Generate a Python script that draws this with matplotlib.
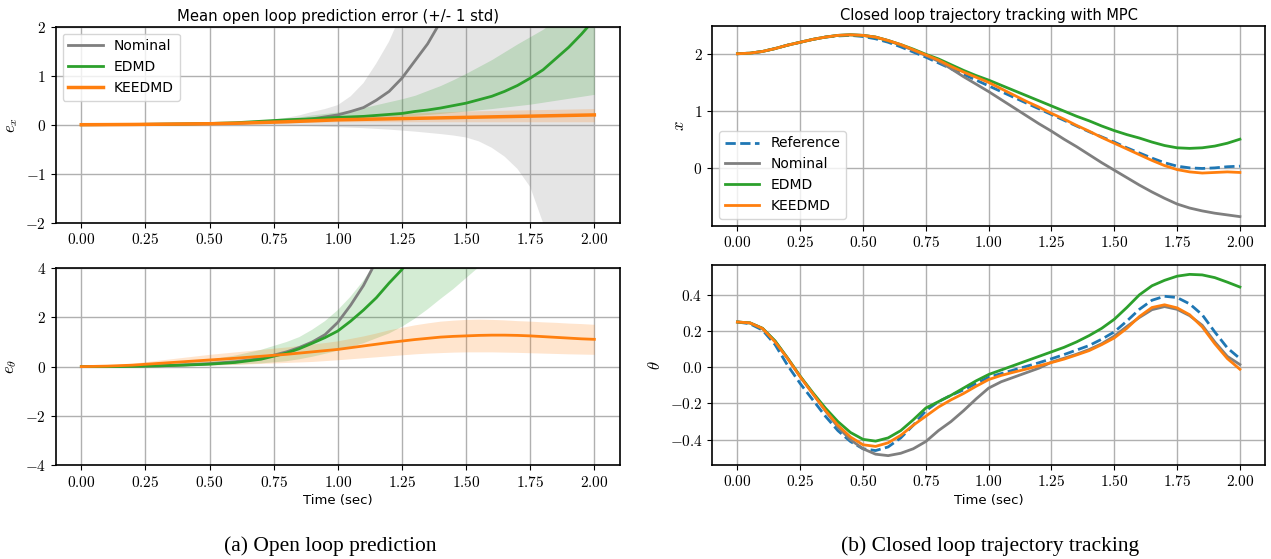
import numpy as np
import matplotlib
matplotlib.use("Agg")
import matplotlib.pyplot as plt
from matplotlib.ticker import FuncFormatter, MultipleLocator, FixedLocator

plt.rcParams['mathtext.fontset'] = 'cm'
plt.rcParams['font.family'] = 'DejaVu Sans'

# ---------------- open loop prediction error ----------------
# coarse steps early on, 0.05 s where the curves bend
t_ol = [0.0, 0.1, 0.2, 0.3, 0.4, 0.5, 0.6, 0.7,
        0.8, 0.85, 0.9, 0.95, 1.0, 1.05, 1.1, 1.15, 1.2, 1.25, 1.3, 1.35, 1.4,
        1.45, 1.5, 1.55, 1.6, 1.65, 1.7, 1.75, 1.8, 1.85, 1.9, 1.95, 2.0]

# e_x
nom_ex = [0, 0.002, 0.005, 0.01, 0.015, 0.02, 0.03, 0.05,
          0.08, 0.1, 0.12, 0.16, 0.2, 0.27, 0.35, 0.5, 0.68, 0.95, 1.3, 1.65, 2.1,
          2.7, 3.5, 4.5, 6, 7.7, 10, 13, 17, 22, 28, 37, 48]
nom_ex_hi = [0, 0.002, 0.005, 0.01, 0.015, 0.025, 0.04, 0.07,
             0.14, 0.19, 0.26, 0.32, 0.4, 0.58, 0.85, 1.25, 1.7, 2.3, 3, 3.9, 5,
             6.3, 8, 10, 13, 16.5, 21, 27, 34, 42, 52, 65, 80]
nom_ex_lo = [0, 0, 0, 0, 0, 0, -0.005, -0.01,
             -0.02, -0.025, -0.03, -0.04, -0.05, -0.06, -0.07, -0.085, -0.1, -0.12, -0.14, -0.165, -0.19,
             -0.22, -0.26, -0.34, -0.47, -0.65, -0.9, -1.27, -2.0, -3.0, -4.0, -5.0, -6.0]
edmd_ex = [0, 0.002, 0.005, 0.01, 0.015, 0.025, 0.04, 0.07,
           0.1, 0.11, 0.12, 0.135, 0.15, 0.16, 0.17, 0.19, 0.21, 0.23, 0.27, 0.3, 0.34,
           0.39, 0.44, 0.51, 0.58, 0.68, 0.8, 0.95, 1.12, 1.35, 1.58, 1.85, 2.15]
edmd_ex_hi = [0, 0.002, 0.005, 0.01, 0.02, 0.03, 0.05, 0.08,
              0.13, 0.16, 0.2, 0.23, 0.26, 0.3, 0.35, 0.41, 0.47, 0.53, 0.6, 0.7, 0.8,
              0.92, 1.05, 1.19, 1.33, 1.49, 1.65, 1.8, 1.95, 2.15, 2.4, 2.8, 3.2]
edmd_ex_lo = [0, 0, 0.002, 0.005, 0.01, 0.015, 0.025, 0.04,
              0.06, 0.07, 0.08, 0.09, 0.1, 0.115, 0.13, 0.145, 0.16, 0.175, 0.19, 0.21, 0.23,
              0.255, 0.28, 0.305, 0.33, 0.36, 0.39, 0.42, 0.46, 0.5, 0.54, 0.58, 0.62]
kee_ex = [0, 0.002, 0.005, 0.01, 0.015, 0.02, 0.03, 0.045,
          0.06, 0.07, 0.08, 0.09, 0.1, 0.105, 0.11, 0.115, 0.12, 0.125, 0.13, 0.135, 0.14,
          0.145, 0.15, 0.155, 0.16, 0.165, 0.17, 0.175, 0.18, 0.185, 0.19, 0.195, 0.2]
kee_ex_hi = [0, 0.004, 0.008, 0.014, 0.02, 0.03, 0.045, 0.065,
             0.09, 0.105, 0.12, 0.135, 0.15, 0.165, 0.18, 0.195, 0.21, 0.225, 0.24, 0.25, 0.26,
             0.27, 0.28, 0.285, 0.29, 0.295, 0.3, 0.305, 0.31, 0.315, 0.32, 0.325, 0.33]
kee_ex_lo = [0, 0, 0.002, 0.006, 0.01, 0.015, 0.02, 0.03,
             0.04, 0.045, 0.05, 0.055, 0.06, 0.06, 0.06, 0.06, 0.06, 0.06, 0.06, 0.06, 0.06,
             0.06, 0.06, 0.06, 0.06, 0.06, 0.06, 0.06, 0.06, 0.06, 0.06, 0.06, 0.06]

# e_theta
nom_eth = [0, 0, 0.01, 0.03, 0.07, 0.12, 0.2, 0.33,
           0.6, 0.78, 1.0, 1.3, 1.8, 2.5, 3.3, 4.3, 5.5, 7, 8.5, 10, 12,
           14.5, 17, 20, 23, 26.5, 30, 34, 38, 43, 48, 54, 60]
edmd_eth = [0, 0, 0.01, 0.03, 0.06, 0.1, 0.17, 0.3,
            0.55, 0.73, 0.95, 1.18, 1.45, 1.85, 2.3, 2.8, 3.4, 3.95, 4.7, 5.5, 6.5,
            7.5, 8.5, 9.7, 11, 12.5, 14, 15.5, 17, 19, 21, 23, 25]
edmd_eth_hi = [0, 0.01, 0.03, 0.08, 0.16, 0.28, 0.45, 0.68,
               1.0, 1.2, 1.5, 1.85, 2.3, 2.85, 3.5, 4.3, 5.2, 6.2, 7.5, 8.7, 10,
               11.5, 13, 15, 17, 19.5, 22, 25, 28, 31.5, 35, 39, 43]
edmd_eth_lo = [0, 0, 0, 0.01, 0.03, 0.05, 0.08, 0.13,
               0.22, 0.3, 0.4, 0.52, 0.65, 0.8, 0.95, 1.15, 1.35, 1.62, 1.95, 2.33, 2.75,
               3.15, 3.6, 4.05, 4.5, 5.05, 5.6, 6.2, 6.8, 7.5, 8.2, 9.1, 10]
kee_eth = [0, 0.02, 0.06, 0.13, 0.2, 0.27, 0.34, 0.42,
           0.5, 0.55, 0.6, 0.65, 0.7, 0.77, 0.84, 0.91, 0.98, 1.04, 1.1, 1.15, 1.2,
           1.23, 1.25, 1.27, 1.28, 1.28, 1.27, 1.25, 1.22, 1.19, 1.16, 1.13, 1.11]
kee_eth_hi = [0, 0.05, 0.14, 0.26, 0.38, 0.5, 0.6, 0.7,
              0.8, 0.86, 0.92, 0.98, 1.05, 1.15, 1.25, 1.37, 1.5, 1.6, 1.7, 1.78, 1.85,
              1.89, 1.92, 1.93, 1.92, 1.9, 1.87, 1.85, 1.82, 1.8, 1.77, 1.75, 1.72]
kee_eth_lo = [0, 0, 0, 0.01, 0.03, 0.06, 0.09, 0.13,
              0.17, 0.19, 0.21, 0.245, 0.28, 0.32, 0.36, 0.4, 0.44, 0.48, 0.52, 0.55, 0.57,
              0.59, 0.6, 0.6, 0.6, 0.59, 0.58, 0.565, 0.55, 0.535, 0.52, 0.51, 0.5]

# ---------------- closed loop tracking (t every 0.05 s) ----------------
t_cl = [i * 0.05 for i in range(41)]

ref_x = [2.0, 2.01, 2.04, 2.09, 2.15, 2.2, 2.25, 2.29, 2.31, 2.32, 2.3,
         2.26, 2.2, 2.12, 2.03, 1.94, 1.84, 1.74, 1.64, 1.54, 1.44,
         1.34, 1.24, 1.14, 1.04, 0.94, 0.84, 0.74, 0.64, 0.55, 0.46,
         0.36, 0.27, 0.18, 0.1, 0.04, 0.01, 0.0, 0.01, 0.03, 0.04]
nom_x = [2.0, 2.01, 2.04, 2.09, 2.15, 2.2, 2.25, 2.29, 2.32, 2.33, 2.32,
         2.29, 2.23, 2.15, 2.06, 1.97, 1.87, 1.74, 1.6, 1.47, 1.34,
         1.2, 1.06, 0.92, 0.78, 0.65, 0.51, 0.38, 0.24, 0.1, -0.03,
         -0.16, -0.29, -0.41, -0.52, -0.62, -0.69, -0.74, -0.78, -0.81, -0.84]
edmd_x = [2.0, 2.01, 2.04, 2.09, 2.15, 2.2, 2.25, 2.29, 2.32, 2.33, 2.32,
          2.29, 2.23, 2.16, 2.08, 1.99, 1.91, 1.81, 1.71, 1.62, 1.54,
          1.45, 1.36, 1.27, 1.18, 1.09, 1.0, 0.91, 0.83, 0.74, 0.66,
          0.59, 0.53, 0.46, 0.4, 0.36, 0.35, 0.36, 0.39, 0.44, 0.51]
kee_x = [2.0, 2.01, 2.04, 2.09, 2.15, 2.2, 2.25, 2.29, 2.32, 2.33, 2.32,
         2.29, 2.23, 2.16, 2.07, 1.98, 1.89, 1.78, 1.68, 1.59, 1.5,
         1.39, 1.28, 1.17, 1.07, 0.96, 0.86, 0.75, 0.65, 0.54, 0.44,
         0.34, 0.24, 0.14, 0.05, -0.02, -0.06, -0.08, -0.07, -0.06, -0.07]

ref_th = [0.25, 0.24, 0.205, 0.125, 0.01, -0.09, -0.18, -0.27, -0.35, -0.41, -0.45,
          -0.46, -0.44, -0.39, -0.32, -0.24, -0.19, -0.155, -0.125, -0.09, -0.055,
          -0.035, -0.015, 0.005, 0.025, 0.047, 0.07, 0.095, 0.12, 0.155, 0.195,
          0.255, 0.32, 0.37, 0.392, 0.385, 0.35, 0.29, 0.195, 0.107, 0.048]
nom_th = [0.25, 0.245, 0.215, 0.145, 0.05, -0.05, -0.145, -0.24, -0.33, -0.4, -0.45,
          -0.48, -0.488, -0.475, -0.45, -0.41, -0.35, -0.3, -0.24, -0.175, -0.115,
          -0.08, -0.055, -0.03, -0.005, 0.028, 0.05, 0.072, 0.098, 0.13, 0.172,
          0.225, 0.275, 0.318, 0.335, 0.32, 0.285, 0.232, 0.14, 0.06, 0.015]
edmd_th = [0.25, 0.245, 0.215, 0.145, 0.05, -0.05, -0.14, -0.225, -0.3, -0.36, -0.398,
           -0.408, -0.39, -0.35, -0.29, -0.225, -0.19, -0.155, -0.115, -0.075, -0.04,
           -0.015, 0.01, 0.035, 0.06, 0.085, 0.11, 0.14, 0.175, 0.215, 0.265,
           0.33, 0.4, 0.45, 0.48, 0.503, 0.513, 0.51, 0.495, 0.47, 0.443]
kee_th = [0.25, 0.245, 0.214, 0.14, 0.048, -0.053, -0.146, -0.238, -0.32, -0.385, -0.428,
          -0.437, -0.417, -0.376, -0.32, -0.27, -0.22, -0.18, -0.145, -0.105, -0.068,
          -0.045, -0.027, -0.01, 0.008, 0.026, 0.045, 0.068, 0.092, 0.125, 0.162,
          0.215, 0.28, 0.33, 0.345, 0.328, 0.29, 0.223, 0.13, 0.048, -0.011]

c_nom = '#7f7f7f'
c_edmd = '#2ca02c'
c_kee = '#ff7f0e'
c_ref = '#1f77b4'
lw = 2.0


def style(ax, fmt):
    ax.grid(True, color='#b0b0b0', lw=1.0)
    ax.set_axisbelow(True)
    ax.xaxis.set_major_locator(MultipleLocator(0.25))
    ax.xaxis.set_major_formatter(FuncFormatter(lambda v, p: '$%.2f$' % (round(v, 3) + 0.0)))
    ax.yaxis.set_major_formatter(FuncFormatter(lambda v, p: fmt % (round(v, 3) + 0.0)))
    ax.tick_params(labelsize=11)
    for s in ax.spines.values():
        s.set_linewidth(1.2)


fig = plt.figure(figsize=(12.71, 5.59), dpi=100)

# (a) top: e_x
ax1 = fig.add_axes([0.0438, 0.6016, 0.444, 0.3506])
ax1.fill_between(t_ol, nom_ex_lo, nom_ex_hi, color=c_nom, alpha=0.2, lw=0)
ax1.fill_between(t_ol, edmd_ex_lo, edmd_ex_hi, color=c_edmd, alpha=0.2, lw=0)
ax1.fill_between(t_ol, kee_ex_lo, kee_ex_hi, color=c_kee, alpha=0.2, lw=0)
ax1.plot(t_ol, nom_ex, color=c_nom, lw=lw, label='Nominal')
ax1.plot(t_ol, edmd_ex, color=c_edmd, lw=lw, label='EDMD')
ax1.plot(t_ol, kee_ex, color=c_kee, lw=2.5, label='KEEDMD')
ax1.set_ylim(-2, 2)
ax1.yaxis.set_major_locator(MultipleLocator(1))
style(ax1, '$%g$')
ax1.set_ylabel('$e_x$', fontsize=12)
ax1.set_title('Mean open loop prediction error (+/- 1 std)', fontsize=10.7, pad=4)
ax1.legend(loc='upper left', fontsize=10, handlelength=2.5)

# (a) bottom: e_theta
ax2 = fig.add_axes([0.0438, 0.1682, 0.444, 0.3519])
ax2.fill_between(t_ol, edmd_eth_lo, edmd_eth_hi, color=c_edmd, alpha=0.2, lw=0)
ax2.fill_between(t_ol, kee_eth_lo, kee_eth_hi, color=c_kee, alpha=0.2, lw=0)
ax2.plot(t_ol, nom_eth, color=c_nom, lw=lw)
ax2.plot(t_ol, edmd_eth, color=c_edmd, lw=lw)
ax2.plot(t_ol, kee_eth, color=c_kee, lw=lw)
ax2.set_ylim(-4, 4)
ax2.yaxis.set_major_locator(MultipleLocator(2))
style(ax2, '$%g$')
ax2.set_ylabel(r'$e_\theta$', fontsize=12)
ax2.set_xlabel('Time (sec)', fontsize=9.5, labelpad=3)

# (b) top: x
ax3 = fig.add_axes([0.5604, 0.5962, 0.4349, 0.3578])
ax3.plot(t_cl, ref_x, color=c_ref, lw=lw, ls='--', label='Reference')
ax3.plot(t_cl, nom_x, color=c_nom, lw=lw, label='Nominal')
ax3.plot(t_cl, edmd_x, color=c_edmd, lw=lw, label='EDMD')
ax3.plot(t_cl, kee_x, color=c_kee, lw=lw, label='KEEDMD')
ax3.yaxis.set_major_locator(FixedLocator([0, 1, 2]))
style(ax3, '$%g$')
ax3.set_ylabel('$x$', fontsize=12)
ax3.set_title('Closed loop trajectory tracking with MPC', fontsize=10.5, pad=4)
ax3.legend(loc='lower left', fontsize=10, handlelength=2.5)

# (b) bottom: theta
ax4 = fig.add_axes([0.5604, 0.1687, 0.4349, 0.3567])
ax4.plot(t_cl, ref_th, color=c_ref, lw=lw, ls='--')
ax4.plot(t_cl, nom_th, color=c_nom, lw=lw)
ax4.plot(t_cl, edmd_th, color=c_edmd, lw=lw)
ax4.plot(t_cl, kee_th, color=c_kee, lw=lw)
ax4.yaxis.set_major_locator(MultipleLocator(0.2))
style(ax4, '$%.1f$')
ax4.set_ylabel(r'$\theta$', fontsize=12)
ax4.set_xlabel('Time (sec)', fontsize=9.5, labelpad=3)

fig.text(0.26, 0.005, '(a) Open loop prediction', ha='center', va='bottom',
         fontsize=15.5, family='Liberation Serif')
fig.text(0.779, 0.005, '(b) Closed loop trajectory tracking', ha='center', va='bottom',
         fontsize=15.5, family='Liberation Serif')

fig.savefig('out.png', dpi=100)
